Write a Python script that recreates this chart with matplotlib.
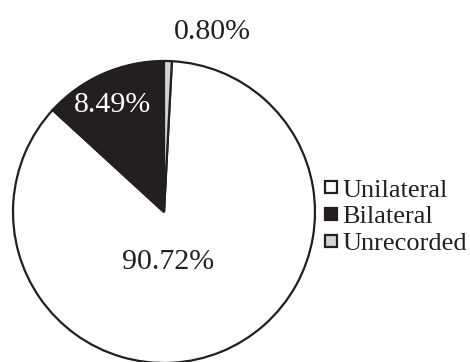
import matplotlib.pyplot as plt
from matplotlib.lines import Line2D

labels = ['Unilateral', 'Bilateral', 'Unrecorded']
values = [90.72, 8.49, 0.80]
# the printed chart does not draw the slices to scale; these are the
# angular sizes (degrees)
drawn_deg = [309.5, 47.5, 3.0]
colors = ['#ffffff', '#231f20', '#d1d3d4']

plt.rcParams['font.family'] = ['Liberation Serif', 'DejaVu Serif']
ink = '#231f20'

fig = plt.figure(figsize=(4.7, 3.62), dpi=100)
ax = fig.add_axes([13 / 470, -1 / 362, 302 / 470, 302 / 362])

# start so that the small grey slice sits just right of 12 o'clock
start = 90 - drawn_deg[2]
ax.pie(drawn_deg, colors=colors, startangle=start, counterclock=False, radius=1,
       wedgeprops=dict(edgecolor=ink, linewidth=1.6))
ax.set_xlim(-1, 1)
ax.set_ylim(-1, 1)
ax.set_aspect('auto')
ax.axis('off')

# percentage labels
fs = 21.5
ax.text(0.03, -0.33, '%.2f%%' % values[0], fontsize=fs, color=ink, ha='center', va='center')
ax.text(-0.34, 0.71, '%.2f%%' % values[1], fontsize=fs, color='white', ha='center', va='center')
ax.text(0.32, 1.19, '%.2f%%' % values[2], fontsize=fs, color=ink, ha='center', va='center', clip_on=False)

handles = [Line2D([], [], marker='s', linestyle='none', markersize=8,
                  markerfacecolor=c, markeredgecolor=ink, markeredgewidth=1.6)
           for c in colors]
fig.legend(handles, labels, loc='upper left', bbox_to_anchor=(0.684, 0.508),
           frameon=False, fontsize=19, handlelength=0.7, handletextpad=0.1,
           labelspacing=0.13, borderpad=0, borderaxespad=0, labelcolor=ink)

fig.savefig('out.png', dpi=100)
